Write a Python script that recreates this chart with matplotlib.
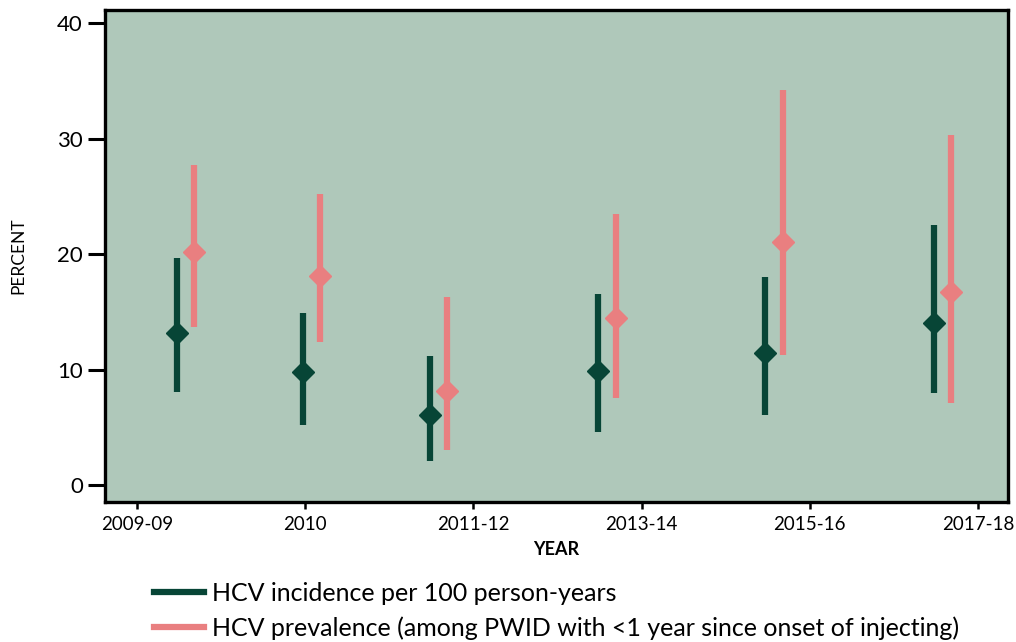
import matplotlib
matplotlib.use("Agg")
import matplotlib.pyplot as plt
from matplotlib.lines import Line2D

# ---- data ----
periods = ["2009-09", "2010", "2011-12", "2013-14", "2015-16", "2017-18"]
obs_pos = [0.238, 0.987, 1.742, 2.741, 3.734, 4.738]   # observation location on the period axis
pair_offset = 0.104

inc_val = [13.2, 9.8, 6.1, 9.9, 11.4, 14.0]
inc_low = [8.05, 5.2, 2.1, 4.6, 6.1, 8.0]
inc_high = [19.7, 14.9, 11.2, 16.5, 18.0, 22.5]

prev_val = [20.2, 18.1, 8.1, 14.5, 21.0, 16.7]
prev_low = [13.7, 12.4, 3.0, 7.5, 11.3, 7.1]
prev_high = [27.7, 25.2, 16.3, 23.5, 34.2, 30.3]

yticks = [0, 10, 20, 30, 40]
labels = ["HCV incidence per 100 person-years",
          "HCV prevalence (among PWID with <1 year since onset of injecting)"]

GREEN = "#074536"
PINK = "#e97f80"
BG = "#afc8ba"

plt.rcParams['font.family'] = ['Lato', 'DejaVu Sans']

fig = plt.figure(figsize=(10.16, 6.42), dpi=100)
ax = fig.add_axes([105/1016, 1 - 502/642, 903/1016, 492/642])
ax.set_facecolor(BG)

x_inc = [p for p in obs_pos]
x_prev = [p + pair_offset for p in obs_pos]

ax.errorbar(x_inc, inc_val,
            yerr=[[v - l for v, l in zip(inc_val, inc_low)],
                  [h - v for v, h in zip(inc_val, inc_high)]],
            fmt='D', color=GREEN, ecolor=GREEN, elinewidth=4.5, capsize=0,
            markersize=11, zorder=3)
ax.errorbar(x_prev, prev_val,
            yerr=[[v - l for v, l in zip(prev_val, prev_low)],
                  [h - v for v, h in zip(prev_val, prev_high)]],
            fmt='D', color=PINK, ecolor=PINK, elinewidth=4.5, capsize=0,
            markersize=11, zorder=3)

ax.set_xlim(-0.190, 5.178)
ax.set_ylim(-1.47, 41.13)
ax.set_xticks(range(len(periods)))
ax.set_xticklabels(periods, fontsize=13.5)
ax.set_yticks(yticks)
ax.set_yticklabels([str(t) for t in yticks], fontsize=16)
ax.tick_params(axis='y', length=12, width=2.2, pad=4, color='black')
ax.tick_params(axis='x', length=5, width=1.8, pad=5, color='black')
for s in ax.spines.values():
    s.set_linewidth(2.4)
    s.set_color('black')

ax.set_ylabel("PERCENT", fontsize=12.5, labelpad=22)
ax.set_xlabel("YEAR", fontsize=13, fontweight='bold', labelpad=6)

handles = [Line2D([], [], color=GREEN, lw=4.5),
           Line2D([], [], color=PINK, lw=4.5)]
fig.legend(handles, labels, loc='upper left', bbox_to_anchor=(154/1016, 1 - 582/642),
           frameon=False, fontsize=18, handlelength=2.0, handletextpad=0.3,
           labelspacing=0.45, borderaxespad=0, borderpad=0)

fig.savefig("out.png", dpi=100)
